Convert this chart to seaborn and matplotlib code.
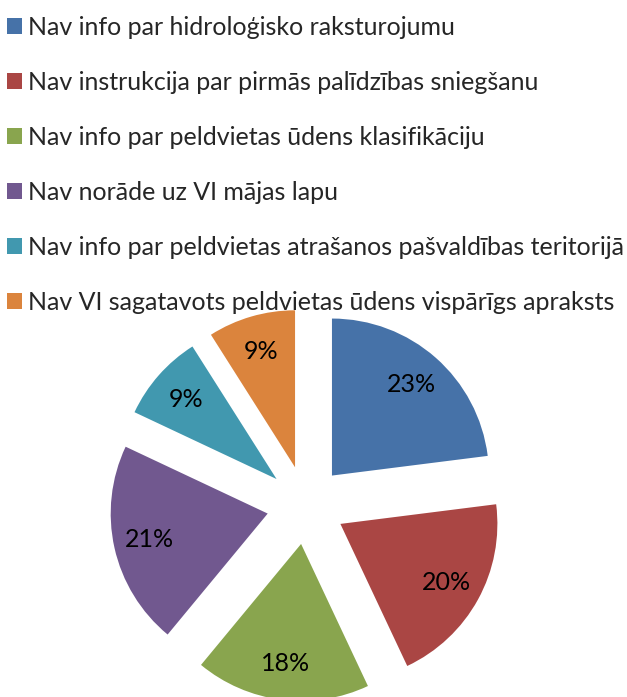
import matplotlib
matplotlib.use('Agg')
import matplotlib.pyplot as plt
import seaborn as sns

labels = ['Nav info par hidroloģisko raksturojumu',
          'Nav instrukcija par pirmās palīdzības sniegšanu',
          'Nav info par peldvietas ūdens klasifikāciju',
          'Nav norāde uz VI mājas lapu',
          'Nav info par peldvietas atrašanos pašvaldības teritorijā',
          'Nav VI sagatavots peldvietas ūdens vispārīgs apraksts']
values = [23, 20, 18, 21, 9, 9]
colors = ['#4672A8', '#AA4644', '#89A54E', '#71588F', '#4198AF', '#DB843D']

sns.set_theme(style='white')
plt.rcParams['font.family'] = ['Lato', 'DejaVu Sans']

fig = plt.figure(figsize=(6.27, 6.97), dpi=100)
ax = fig.add_axes([0, 0, 1, 1])

# pie radius = 1 data unit = 157 px, centre at (306, 505) px
wedges, texts, autotexts = ax.pie(values, colors=sns.color_palette(colors),
                                  startangle=90, counterclock=False,
                                  explode=[0.25] * len(values),
                                  autopct='%1.0f%%', pctdistance=0.77,
                                  textprops={'fontsize': 18, 'color': 'black'},
                                  wedgeprops={'linewidth': 0})
ax.set_xlim(-306 / 157, 321 / 157)
ax.set_ylim(-192 / 157, 505 / 157)
ax.set_aspect('auto')
ax.axis('off')

ax.legend(wedges, labels, loc='upper left', bbox_to_anchor=(-0.004, 0.992),
          bbox_transform=fig.transFigure, frameon=False, fontsize=18,
          handlelength=0.58, handleheight=0.58, handletextpad=0.25,
          labelspacing=1.28, borderaxespad=0)

plt.savefig('out.png', dpi=100)
plt.close()
